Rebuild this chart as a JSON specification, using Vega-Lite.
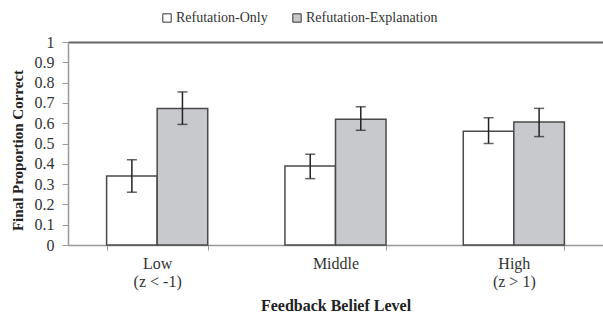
{
  "$schema": "https://vega.github.io/schema/vega-lite/v6.json",
  "width": 535,
  "height": 203,
  "autosize": {"type": "none"},
  "padding": {"left": 68, "top": 42, "right": 0, "bottom": 70},
  "background": "white",
  "config": {
    "view": {"stroke": null},
    "axisY": {
      "titleFont": "Liberation Serif",
      "titleFontSize": 15,
      "titleFontWeight": "bold",
      "titleColor": "#222",
      "titlePadding": 9,
      "titleY": 108,
      "labelFont": "Liberation Serif",
      "labelFontSize": 16,
      "labelColor": "#333",
      "labelPadding": 8,
      "domainColor": "#999",
      "domainWidth": 1.5,
      "tickColor": "#999",
      "tickSize": 6,
      "grid": true,
      "gridColor": "#666",
      "gridWidth": 2,
      "format": "~g"
    }
  },
  "data": {
    "values": [
      {"level": "Low|(z < -1)", "condition": "Refutation-Only", "mean": 0.34, "lo": 0.26, "hi": 0.42},
      {"level": "Low|(z < -1)", "condition": "Refutation-Explanation", "mean": 0.673, "lo": 0.594, "hi": 0.754},
      {"level": "Middle", "condition": "Refutation-Only", "mean": 0.389, "lo": 0.327, "hi": 0.447},
      {"level": "Middle", "condition": "Refutation-Explanation", "mean": 0.619, "lo": 0.565, "hi": 0.681},
      {"level": "High|(z > 1)", "condition": "Refutation-Only", "mean": 0.56, "lo": 0.5, "hi": 0.627},
      {"level": "High|(z > 1)", "condition": "Refutation-Explanation", "mean": 0.606, "lo": 0.534, "hi": 0.673}
    ]
  },
  "encoding": {
    "x": {
      "field": "level",
      "type": "nominal",
      "sort": ["Low|(z < -1)", "Middle", "High|(z > 1)"],
      "scale": {"paddingInner": 0.433, "paddingOuter": 0.2165},
      "axis": {
        "title": "Feedback Belief Level",
        "titleFont": "Liberation Serif",
        "titleFontSize": 16,
        "titleFontWeight": "bold",
        "titleColor": "#222",
        "titlePadding": 8,
        "labelAngle": 0,
        "labelExpr": "isValid(datum.value) ? split(datum.value, '|') : ''",
        "labelFont": "Liberation Serif",
        "labelFontSize": 16,
        "labelColor": "#333",
        "labelLineHeight": 18,
        "labelPadding": 5,
        "domainColor": "#999",
        "domainWidth": 1.5,
        "tickBand": "extent",
        "tickColor": "#999",
        "tickSize": 5
      }
    },
    "xOffset": {
      "field": "condition",
      "type": "nominal",
      "sort": ["Refutation-Only", "Refutation-Explanation"],
      "scale": {"paddingInner": 0, "paddingOuter": 0}
    }
  },
  "layer": [
    {
      "mark": {"type": "bar", "stroke": "#4a4a4a", "strokeWidth": 1.5},
      "encoding": {
        "y": {
          "field": "mean",
          "type": "quantitative",
          "scale": {"domain": [0, 1], "nice": false},
          "axis": {
            "title": "Final Proportion Correct",
            "values": [0, 0.1, 0.2, 0.3, 0.4, 0.5, 0.6, 0.7, 0.8, 0.9, 1],
            "gridOpacity": {"condition": {"test": "datum.value == 1", "value": 1}, "value": 0}
          }
        },
        "fill": {
          "field": "condition",
          "type": "nominal",
          "sort": ["Refutation-Only", "Refutation-Explanation"],
          "scale": {"domain": ["Refutation-Only", "Refutation-Explanation"], "range": ["#ffffff", "#c7c9cc"]},
          "legend": {
            "orient": "none",
            "legendX": 92,
            "legendY": -31,
            "direction": "horizontal",
            "title": null,
            "symbolType": "square",
            "symbolSize": 70,
            "symbolStrokeColor": "#333",
            "symbolStrokeWidth": 1,
            "symbolOpacity": 1,
            "labelFont": "Liberation Serif",
            "labelFontSize": 14,
            "labelColor": "#333",
            "labelOffset": 2,
            "columnPadding": 22
          }
        }
      }
    },
    {
      "mark": {"type": "rule", "color": "#222", "strokeWidth": 1.5},
      "encoding": {
        "y": {
          "field": "lo",
          "type": "quantitative",
          "axis": {
            "title": "Final Proportion Correct",
            "values": [0, 0.1, 0.2, 0.3, 0.4, 0.5, 0.6, 0.7, 0.8, 0.9, 1],
            "gridOpacity": {"condition": {"test": "datum.value == 1", "value": 1}, "value": 0}
          }
        },
        "y2": {"field": "hi"}
      }
    },
    {
      "mark": {"type": "tick", "color": "#222", "thickness": 1.5, "size": 10},
      "encoding": {
        "y": {
          "field": "lo",
          "type": "quantitative",
          "axis": {
            "title": "Final Proportion Correct",
            "values": [0, 0.1, 0.2, 0.3, 0.4, 0.5, 0.6, 0.7, 0.8, 0.9, 1],
            "gridOpacity": {"condition": {"test": "datum.value == 1", "value": 1}, "value": 0}
          }
        }
      }
    },
    {
      "mark": {"type": "tick", "color": "#222", "thickness": 1.5, "size": 10},
      "encoding": {
        "y": {
          "field": "hi",
          "type": "quantitative",
          "axis": {
            "title": "Final Proportion Correct",
            "values": [0, 0.1, 0.2, 0.3, 0.4, 0.5, 0.6, 0.7, 0.8, 0.9, 1],
            "gridOpacity": {"condition": {"test": "datum.value == 1", "value": 1}, "value": 0}
          }
        }
      }
    }
  ]
}
